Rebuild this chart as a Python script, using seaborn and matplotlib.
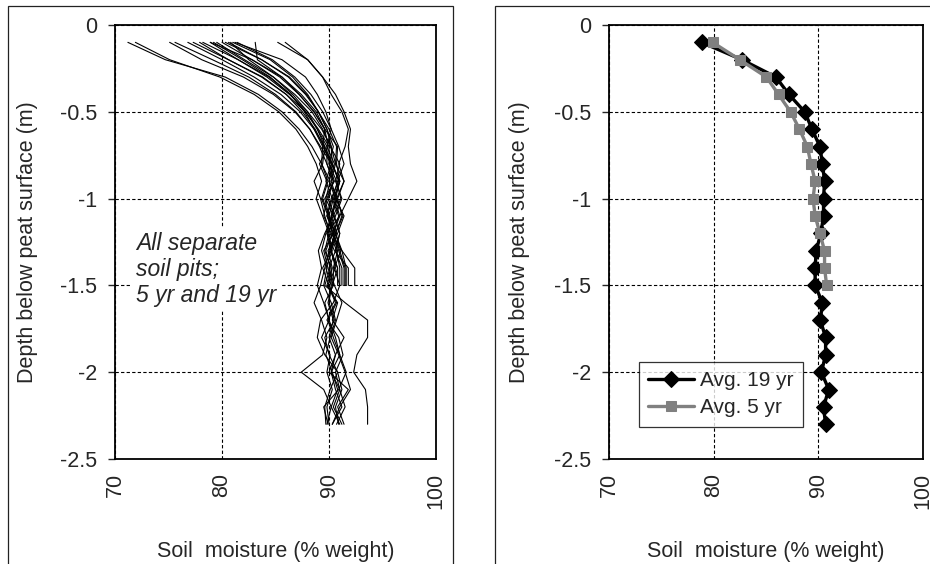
import matplotlib
matplotlib.use("Agg")
import matplotlib.pyplot as plt
import seaborn as sns
import pandas as pd
from matplotlib.patches import Rectangle

# ---------------- data ----------------
depth19 = [-0.1, -0.2, -0.3, -0.4, -0.5, -0.6, -0.7, -0.8, -0.9, -1.0, -1.1, -1.2,
           -1.3, -1.4, -1.5, -1.6, -1.7, -1.8, -1.9, -2.0, -2.1, -2.2, -2.3]
depth5 = [-0.1, -0.2, -0.3, -0.4, -0.5, -0.6, -0.7, -0.8, -0.9, -1.0, -1.1, -1.2,
          -1.3, -1.4, -1.5]

# individual soil pits, 19 yr (depth19)
pit19_01 = [71.2, 74.7, 80.3, 83.4, 85.6, 87.2, 88.4, 89.3, 90.1, 89.7, 90.4, 89.6, 89.0, 89.3, 88.9, 89.5, 90.0, 89.3, 90.1, 89.8, 90.3, 89.8, 90.0]
pit19_02 = [75.1, 78.1, 82.0, 84.8, 86.8, 88.2, 89.2, 90.2, 91.0, 90.4, 90.0, 90.3, 89.7, 90.1, 89.6, 91.5, 93.6, 93.6, 92.6, 92.3, 93.4, 93.6, 93.6]
pit19_03 = [76.8, 80.0, 83.0, 85.5, 87.3, 88.6, 89.6, 90.3, 90.0, 90.8, 91.2, 90.6, 90.0, 89.6, 89.2, 88.6, 89.3, 89.8, 89.4, 87.4, 89.5, 90.2, 89.8]
pit19_04 = [78.2, 81.5, 84.2, 86.3, 88.0, 89.3, 90.2, 90.3, 91.0, 90.6, 91.4, 90.8, 90.2, 90.6, 89.9, 90.6, 89.8, 90.9, 91.3, 90.6, 91.0, 90.4, 91.2]
pit19_05 = [79.5, 82.1, 84.8, 86.8, 88.4, 89.4, 90.1, 91.0, 90.6, 91.2, 90.6, 89.9, 90.3, 89.7, 90.2, 90.0, 90.5, 89.6, 90.0, 90.8, 91.2, 90.6, 90.9]
pit19_06 = [80.6, 83.7, 86.2, 87.8, 89.0, 90.0, 90.7, 90.6, 91.4, 90.8, 90.2, 90.7, 89.9, 90.3, 89.8, 90.8, 90.3, 91.4, 90.6, 90.0, 91.8, 90.8, 91.4]
pit19_07 = [81.4, 84.7, 86.8, 88.3, 89.4, 90.2, 90.9, 91.4, 90.8, 90.3, 90.9, 90.4, 89.5, 89.9, 90.4, 89.6, 90.0, 90.6, 91.0, 90.2, 90.6, 91.2, 90.3]
pit19_08 = [83.1, 83.3, 85.6, 87.2, 88.6, 89.6, 90.8, 90.7, 91.0, 90.5, 91.0, 89.8, 90.2, 89.4, 90.0, 90.7, 89.9, 90.4, 91.0, 91.6, 90.9, 89.5, 89.9]
pit19_09 = [85.2, 88.0, 89.4, 90.2, 91.2, 91.8, 91.5, 90.9, 91.4, 90.7, 91.3, 90.6, 90.1, 90.8, 90.3, 89.9, 90.4, 90.0, 90.6, 90.2, 91.0, 91.5, 90.7]
pit19_10 = [77.9, 80.6, 83.7, 86.0, 87.8, 89.0, 90.0, 90.0, 90.7, 91.1, 90.4, 91.0, 90.6, 90.0, 90.5, 91.2, 90.7, 90.2, 90.9, 91.5, 92.0, 91.0, 90.3]
pit19_11 = [80.0, 82.8, 85.4, 87.2, 88.6, 89.6, 89.4, 90.3, 90.9, 90.2, 89.8, 90.6, 91.1, 90.5, 91.0, 90.4, 89.2, 88.9, 89.6, 90.8, 90.1, 89.6, 89.7]
pit19_12 = [78.9, 81.5, 84.4, 86.4, 87.8, 88.9, 89.8, 90.5, 90.0, 90.6, 90.2, 89.7, 89.3, 89.8, 89.5, 90.2, 90.6, 90.1, 89.7, 90.3, 90.8, 90.2, 91.0]

# individual soil pits, 5 yr (depth5)
pit5_01 = [71.9, 75.1, 79.8, 83.0, 85.3, 86.9, 88.0, 88.8, 89.3, 88.8, 89.4, 90.0, 89.6, 90.2, 90.2]
pit5_02 = [75.6, 79.1, 82.5, 85.0, 86.9, 88.2, 89.1, 89.8, 90.4, 89.9, 90.5, 91.0, 90.6, 91.2, 91.2]
pit5_03 = [77.3, 80.6, 83.8, 86.0, 87.5, 88.7, 89.5, 90.2, 89.7, 90.3, 89.8, 90.4, 91.0, 91.5, 91.5]
pit5_04 = [78.9, 82.8, 85.6, 87.4, 88.8, 89.6, 89.9, 89.1, 89.8, 89.3, 89.9, 90.3, 90.8, 90.4, 90.4]
pit5_05 = [80.3, 83.7, 86.3, 87.9, 89.0, 89.8, 90.2, 90.6, 90.2, 90.7, 90.3, 89.8, 90.5, 91.8, 91.8]
pit5_06 = [80.8, 82.5, 84.8, 86.6, 88.0, 88.9, 89.6, 89.4, 88.6, 89.2, 89.6, 90.1, 90.7, 91.0, 91.0]
pit5_07 = [81.0, 84.5, 86.6, 88.0, 89.0, 89.8, 90.4, 90.0, 90.5, 89.6, 90.0, 90.6, 91.2, 92.4, 92.4]
pit5_08 = [85.9, 88.0, 89.4, 90.6, 91.4, 92.0, 91.8, 92.0, 92.6, 91.8, 91.0, 90.4, 90.9, 91.4, 91.4]
pit5_09 = [79.2, 81.9, 84.5, 86.4, 87.7, 88.6, 89.4, 89.3, 89.9, 89.4, 90.0, 90.5, 90.2, 90.8, 90.8]
pit5_10 = [81.2, 85.6, 87.8, 88.9, 89.7, 90.2, 89.8, 89.8, 90.4, 89.8, 89.5, 90.2, 91.2, 91.6, 91.6]

# averages
avg19 = [78.85, 82.7, 85.95, 87.2, 88.7, 89.4, 90.15, 90.4, 90.6, 90.5, 90.5, 90.25,
         89.8, 89.7, 89.7, 90.4, 90.2, 90.7, 90.7, 90.3, 91.0, 90.5, 90.7]
avg5 = [79.9, 82.5, 85.05, 86.2, 87.35, 88.2, 88.95, 89.3, 89.7, 89.5, 89.7, 90.15,
        90.6, 90.6, 90.8]

xticks = [70, 80, 90, 100]
xtick_labels = ["70", "80", "90", "100"]
yticks = [0, -0.5, -1, -1.5, -2, -2.5]
ytick_labels = ["0", "-0.5", "-1", "-1.5", "-2", "-2.5"]
xlabel = "Soil  moisture (% weight)"
ylabel = "Depth below peat surface (m)"
annotation = "All separate\nsoil pits;\n5 yr and 19 yr"
series_labels = ["Avg. 19 yr", "Avg. 5 yr"]

pits19 = [pit19_01, pit19_02, pit19_03, pit19_04, pit19_05, pit19_06,
          pit19_07, pit19_08, pit19_09, pit19_10, pit19_11, pit19_12]
pits5 = [pit5_01, pit5_02, pit5_03, pit5_04, pit5_05, pit5_06,
         pit5_07, pit5_08, pit5_09, pit5_10]

rows = []
for i, p in enumerate(pits19):
    for d, v in zip(depth19, p):
        rows.append({"pit": f"19_{i}", "depth": d, "moisture": v})
for i, p in enumerate(pits5):
    for d, v in zip(depth5, p):
        rows.append({"pit": f"5_{i}", "depth": d, "moisture": v})
df_pits = pd.DataFrame(rows)
df19 = pd.DataFrame({"depth": depth19, "moisture": avg19})
df5 = pd.DataFrame({"depth": depth5, "moisture": avg5})

# ---------------- style ----------------
sns.set_style("white")
plt.rcParams["font.family"] = ["Liberation Sans", "DejaVu Sans"]

FS = 15.5
fig = plt.figure(figsize=(9.3, 5.64), dpi=100)
ax1 = fig.add_axes([0.1237, 0.1862, 0.3452, 0.7695])
ax2 = fig.add_axes([0.6548, 0.1862, 0.3376, 0.7695])

sns.lineplot(data=df_pits, x="moisture", y="depth", units="pit", estimator=None,
             orient="y", color="black", linewidth=0.8, legend=False, ax=ax1)

sns.lineplot(data=df19, x="moisture", y="depth", orient="y", estimator=None,
             color="black", linewidth=2.4, marker="D", markersize=8,
             markeredgecolor="black", label=series_labels[0], ax=ax2)
sns.lineplot(data=df5, x="moisture", y="depth", orient="y", estimator=None,
             color="#808080", linewidth=2.4, marker="s", markersize=7.5,
             markeredgecolor="#808080", label=series_labels[1], ax=ax2)

for ax in (ax1, ax2):
    ax.set_xlim(70, 100)
    ax.set_ylim(-2.5, 0)
    ax.set_xticks(xticks)
    ax.set_xticklabels(xtick_labels, rotation=90, fontsize=FS)
    ax.set_yticks(yticks)
    ax.set_yticklabels(ytick_labels, fontsize=FS)
    ax.grid(True, color="black", linestyle=(0, (3, 2)), linewidth=0.8)
    ax.set_axisbelow(True)
    for s in ax.spines.values():
        s.set_color("black")
        s.set_linewidth(1.3)
        s.set_visible(True)
    ax.tick_params(axis="y", direction="out", length=5, width=1, pad=8, left=True)
    ax.tick_params(axis="x", length=0, pad=10)
    ax.set_xlabel(xlabel, fontsize=FS)
    ax.set_ylabel(ylabel, fontsize=FS)
    ax.xaxis.set_label_coords(0.5, -0.19)

ax1.yaxis.set_label_coords(-0.24, 0.5)
ax2.yaxis.set_label_coords(-0.25, 0.5)

ax1.text(0.065, 0.522, annotation, transform=ax1.transAxes, fontsize=16.5,
         style="italic", va="top", ha="left", linespacing=1.15,
         bbox=dict(facecolor="white", edgecolor="none", pad=3))

leg = ax2.legend(loc="upper left", bbox_to_anchor=(0.095, 0.224), fontsize=15,
                 frameon=True, fancybox=False, edgecolor="black",
                 handlelength=2.2, borderpad=0.45, labelspacing=0.4,
                 handletextpad=0.3, borderaxespad=0)
leg.get_frame().set_linewidth(0.9)

# panel frames
fig.add_artist(Rectangle((8 / 930, -0.05), (453 - 8) / 930, 1.05 - 6 / 564,
                         transform=fig.transFigure, fill=False,
                         edgecolor="#222222", linewidth=0.9))
fig.add_artist(Rectangle((495 / 930, -0.05), 1.0, 1.05 - 6 / 564,
                         transform=fig.transFigure, fill=False,
                         edgecolor="#222222", linewidth=0.9))

fig.savefig("out.png", dpi=100)
